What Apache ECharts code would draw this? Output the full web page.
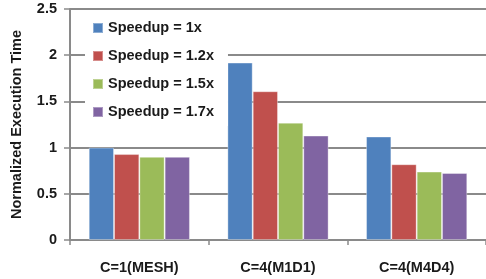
<!DOCTYPE html>
<html><head><meta charset="utf-8">
<script src="https://cdn.jsdelivr.net/npm/echarts@6/dist/echarts.min.js"></script>
<style>html,body{margin:0;padding:0;background:#fff}#c{width:486px;height:279px}</style>
</head><body><div id="c"></div>
<script>
const categories = ["C=1(MESH)", "C=4(M1D1)", "C=4(M4D4)"];
const seriesNames = ["Speedup = 1x", "Speedup = 1.2x", "Speedup = 1.5x", "Speedup = 1.7x"];
const speedup1x = [1.00, 1.92, 1.12];
const speedup12x = [0.93, 1.61, 0.82];
const speedup15x = [0.90, 1.27, 0.74];
const speedup17x = [0.90, 1.13, 0.725];
const colors = ["#4F81BD", "#C0504D", "#9BBB59", "#8064A2"];
const values = [speedup1x, speedup12x, speedup15x, speedup17x];
const font = "Liberation Sans";
const chart = echarts.init(document.getElementById('c'), null, {renderer: 'canvas'});
chart.setOption({
  animation: false,
  backgroundColor: '#fff',
  grid: {left: 70, right: 0, top: 9, bottom: 39, containLabel: false},
  legend: {
    orient: 'vertical', left: 85, top: 14,
    padding: [6, 14, 6, 7],
    backgroundColor: '#fff',
    itemWidth: 10, itemHeight: 10, itemGap: 12,
    icon: 'rect',
    textStyle: {fontFamily: font, fontWeight: 'bold', fontSize: 14.5, color: '#1a1a1a', lineHeight: 16},
    data: seriesNames
  },
  xAxis: {
    type: 'category', data: categories,
    axisLine: {lineStyle: {color: '#8a8a8a', width: 2}},
    axisTick: {show: true, length: 5, lineStyle: {color: '#8a8a8a', width: 1.5}},
    axisLabel: {fontFamily: font, fontWeight: 'bold', fontSize: 14.5, color: '#1a1a1a', margin: 20}
  },
  yAxis: {
    type: 'value', min: 0, max: 2.5, interval: 0.5,
    name: 'Normalized Execution Time', nameLocation: 'middle', nameGap: 46,
    nameTextStyle: {fontFamily: font, fontWeight: 'bold', fontSize: 14.5, color: '#1a1a1a'},
    axisLine: {show: true, lineStyle: {color: '#8a8a8a', width: 2}},
    axisTick: {show: true, length: 6, lineStyle: {color: '#8a8a8a', width: 1.5}},
    axisLabel: {fontFamily: font, fontWeight: 'bold', fontSize: 14.5, color: '#1a1a1a', margin: 13},
    splitLine: {lineStyle: {color: '#8a8a8a', width: 2}}
  },
  series: seriesNames.map((n, i) => ({
    name: n, type: 'bar', data: values[i],
    barGap: '0%', barCategoryGap: '27%',
    itemStyle: {color: colors[i], borderColor: 'rgba(255,255,255,0.35)', borderWidth: 1}
  }))
});
</script></body></html>
